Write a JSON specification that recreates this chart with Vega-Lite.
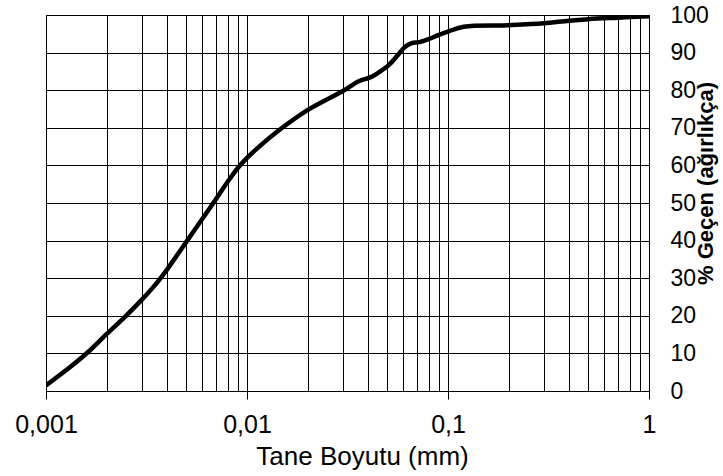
{
  "$schema": "https://vega.github.io/schema/vega-lite/v6.json",
  "autosize": "none",
  "width": 603,
  "height": 376,
  "padding": {"left": 46, "top": 15, "right": 74, "bottom": 85},
  "background": "white",
  "config": {
    "font": "Liberation Sans",
    "view": {"stroke": "black", "strokeWidth": 1}
  },
  "data": {
    "values": [
      {"d": 0.001, "p": 1.5},
      {"d": 0.0013, "p": 6.1},
      {"d": 0.0016, "p": 10.1},
      {"d": 0.002, "p": 15.1},
      {"d": 0.0025, "p": 20},
      {"d": 0.003, "p": 24.3},
      {"d": 0.0035, "p": 28.3},
      {"d": 0.004, "p": 32.3},
      {"d": 0.0045, "p": 36.2},
      {"d": 0.0051, "p": 40.4},
      {"d": 0.006, "p": 45.8},
      {"d": 0.0069, "p": 50.5},
      {"d": 0.008, "p": 55.6},
      {"d": 0.009, "p": 59.3},
      {"d": 0.01, "p": 62},
      {"d": 0.0115, "p": 65},
      {"d": 0.0148, "p": 69.8},
      {"d": 0.02, "p": 74.7},
      {"d": 0.03, "p": 79.8},
      {"d": 0.036, "p": 82.4},
      {"d": 0.041, "p": 83.4},
      {"d": 0.046, "p": 85},
      {"d": 0.051, "p": 86.8},
      {"d": 0.056, "p": 89.2},
      {"d": 0.061, "p": 91.5},
      {"d": 0.066, "p": 92.5},
      {"d": 0.072, "p": 92.8},
      {"d": 0.08, "p": 93.6},
      {"d": 0.09, "p": 94.7},
      {"d": 0.1, "p": 95.6},
      {"d": 0.12, "p": 96.9},
      {"d": 0.2, "p": 97.3},
      {"d": 0.3, "p": 97.8},
      {"d": 0.4, "p": 98.5},
      {"d": 0.5, "p": 98.9},
      {"d": 0.7, "p": 99.3},
      {"d": 1, "p": 99.7}
    ]
  },
  "mark": {"type": "line", "color": "black", "strokeWidth": 4.5, "interpolate": "catmull-rom", "clip": true},
  "encoding": {
    "x": {
      "field": "d",
      "type": "quantitative",
      "scale": {"type": "log", "domain": [0.001, 1], "nice": false},
      "axis": {
        "title": "Tane Boyutu (mm)",
        "titleFontSize": 26,
        "titleFontWeight": "normal",
        "titleColor": "black",
        "titleX": 316,
        "titleY": 73,
        "titleAlign": "center",
        "titleBaseline": "alphabetic",
        "values": [0.001, 0.002, 0.003, 0.004, 0.005, 0.006, 0.007, 0.008, 0.009, 0.01, 0.02, 0.03, 0.04, 0.05, 0.06, 0.07, 0.08, 0.09, 0.1, 0.2, 0.3, 0.4, 0.5, 0.6, 0.7, 0.8, 0.9, 1],
        "labelExpr": "abs(log(datum.value)/LN10 - round(log(datum.value)/LN10)) < 0.001 ? replace(toString(datum.value), '.', ',') : ''",
        "labelFontSize": 25,
        "labelColor": "black",
        "labelAlign": "center",
        "labelBaseline": "alphabetic",
        "labelPadding": 33,
        "labelOverlap": false,
        "labelBound": false,
        "labelFlush": false,
        "ticks": true,
        "tickSize": 8,
        "tickColor": "black",
        "tickOpacity": {"condition": {"test": "abs(log(datum.value)/LN10 - round(log(datum.value)/LN10)) < 0.001", "value": 1}, "value": 0},
        "grid": true,
        "gridColor": "black",
        "gridOpacity": 1,
        "gridWidth": 1,
        "domainColor": "black",
        "domainWidth": 1
      }
    },
    "y": {
      "field": "p",
      "type": "quantitative",
      "scale": {"domain": [0, 100], "nice": false},
      "axis": {
        "orient": "right",
        "title": "% Geçen (ağırlıkça)",
        "titleFontSize": 22,
        "titleFontWeight": "bold",
        "titleColor": "black",
        "titleAngle": 270,
        "titleX": 63,
        "titleY": 168,
        "titleAlign": "center",
        "titleBaseline": "alphabetic",
        "values": [0, 10, 20, 30, 40, 50, 60, 70, 80, 90, 100],
        "labelFontSize": 23,
        "labelColor": "black",
        "labelAlign": "left",
        "labelPadding": 21,
        "labelOverlap": false,
        "labelBound": false,
        "labelFlush": false,
        "ticks": false,
        "grid": true,
        "gridColor": "black",
        "gridOpacity": 1,
        "gridWidth": 1,
        "domainColor": "black",
        "domainWidth": 1
      }
    }
  }
}
